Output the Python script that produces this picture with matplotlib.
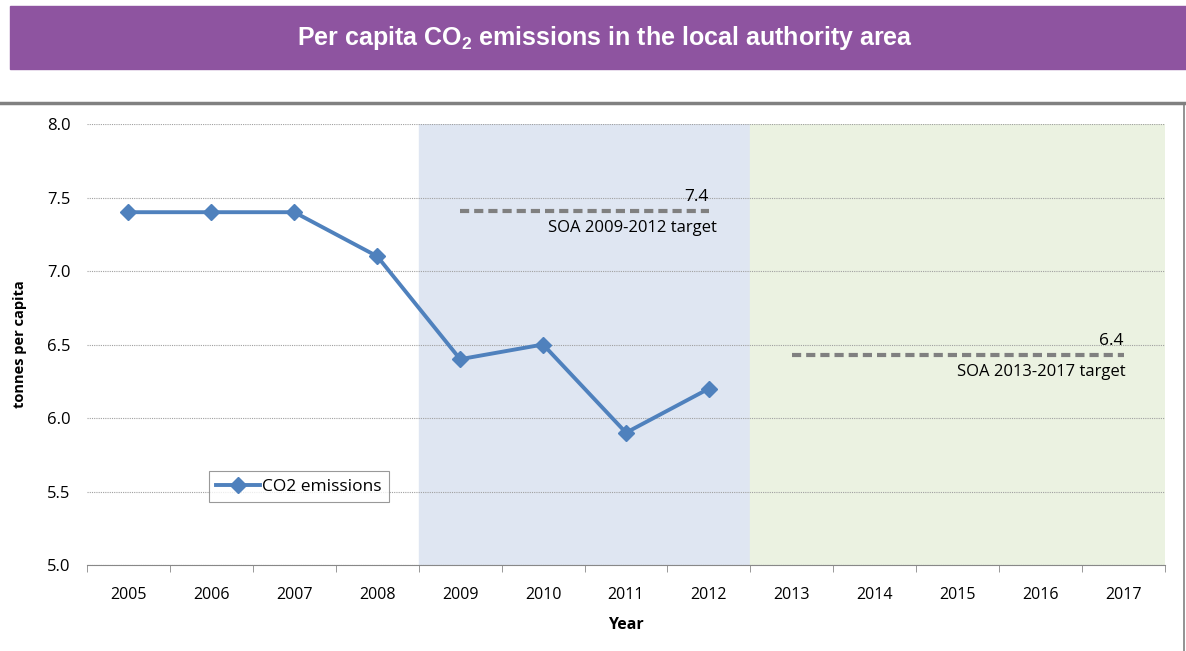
import matplotlib.pyplot as plt
from matplotlib.patches import Rectangle
from matplotlib.lines import Line2D

plt.rcParams['font.family'] = ['Open Sans', 'DejaVu Sans']
plt.rcParams['mathtext.default'] = 'regular'

years = ['2005', '2006', '2007', '2008', '2009', '2010', '2011', '2012',
         '2013', '2014', '2015', '2016', '2017']
co2 = [7.4, 7.4, 7.4, 7.1, 6.4, 6.5, 5.9, 6.2]

target_1 = 7.41
target_1_label = '7.4'
target_2 = 6.43
target_2_label = '6.4'

fig = plt.figure(figsize=(11.86, 6.51), dpi=100)

# purple banner
fig.patches.append(Rectangle((10 / 1186, 1 - 69 / 651), 1 - 10 / 1186, 63 / 651,
                             transform=fig.transFigure, color='#8E54A0', zorder=0))
fig.text(605 / 1186, 1 - 38 / 651, 'Per capita CO$_2$ emissions in the local authority area',
         ha='center', va='center', color='white', fontsize=18, fontweight='bold',
         family=['Liberation Sans Narrow', 'Liberation Sans', 'DejaVu Sans'])
fig.lines.append(Line2D([0, 1], [1 - 103 / 651] * 2, transform=fig.transFigure,
                        color='#808080', lw=2.5))
fig.lines.append(Line2D([1183.5 / 1186] * 2, [0, 1 - 103 / 651], transform=fig.transFigure,
                        color='#808080', lw=1.2))

ax = fig.add_axes([87 / 1186, 1 - 565 / 651, (1165 - 87) / 1186, (565 - 124) / 651])
x = list(range(len(years)))
ax.set_xlim(-0.5, len(years) - 0.5)
ax.set_ylim(5.0, 8.0)

ax.axvspan(3.5, 7.5, color='#DFE6F2', zorder=0)
ax.axvspan(7.5, 12.5, color='#EBF2E1', zorder=0)

ax.set_yticks([5.0, 5.5, 6.0, 6.5, 7.0, 7.5, 8.0])
ax.set_yticklabels(['5.0', '5.5', '6.0', '6.5', '7.0', '7.5', '8.0'], fontsize=12)
ax.yaxis.grid(True, color='#A0A0A0', linestyle=(0, (1, 1)), lw=0.8)
ax.set_axisbelow(True)
ax.tick_params(axis='y', length=0, pad=12)

ax.set_xticks(x)
ax.set_xticklabels(years, fontsize=11.5)
ax.set_xticks([i + 0.5 for i in range(-1, len(years))], minor=True)
ax.tick_params(axis='x', which='major', length=0, pad=16)
ax.tick_params(axis='x', which='minor', length=5, color='#888888')

for s in ['left', 'right', 'top']:
    ax.spines[s].set_visible(False)
ax.spines['bottom'].set_color('#888888')

ax.plot(x[:len(co2)], co2, color='#4F81BD', lw=2.8, marker='D', markersize=8,
        label='CO2 emissions', zorder=3)

ax.plot([4, 7], [target_1, target_1], color='#808080', lw=3, linestyle=(0, (2.2, 1.2)))
ax.text(7, target_1 + 0.04, target_1_label, ha='right', va='bottom', fontsize=12.5)
ax.text(7.1, target_1 - 0.065, 'SOA 2009-2012 target', ha='right', va='top', fontsize=12)

ax.plot([8, 12], [target_2, target_2], color='#808080', lw=3, linestyle=(0, (2.2, 1.2)))
ax.text(12, target_2 + 0.04, target_2_label, ha='right', va='bottom', fontsize=12.5)
ax.text(12.03, target_2 - 0.065, 'SOA 2013-2017 target', ha='right', va='top', fontsize=12)

ax.set_xlabel('Year', fontsize=11.5, fontweight='bold', labelpad=10)
ax.set_ylabel('tonnes per capita', fontsize=10.5, fontweight='bold', labelpad=14)

leg = ax.legend(loc='upper left', bbox_to_anchor=(113 / 1078, 1 - 338 / 441), fontsize=12.5,
                frameon=True, fancybox=False, edgecolor='#808080', handlelength=2.5,
                handletextpad=0.1, borderpad=0.45)
leg.get_frame().set_linewidth(0.8)

fig.savefig('out.png', dpi=100)
